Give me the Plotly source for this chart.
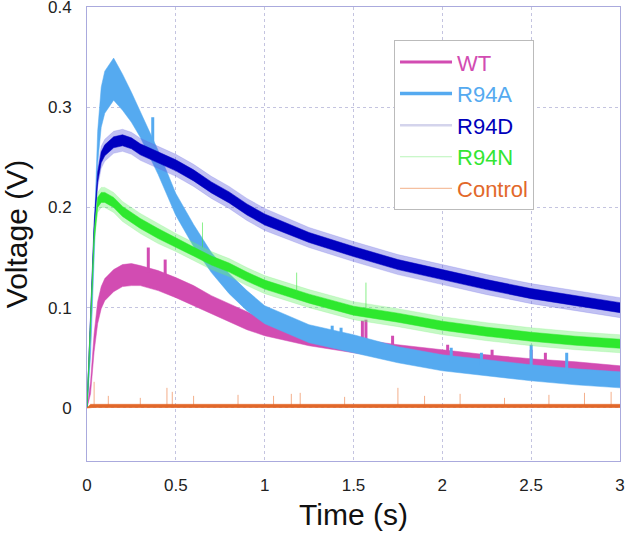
import plotly.graph_objects as go

# ---------------- data ----------------
time_s = [0, 0.02, 0.04, 0.06, 0.08, 0.1, 0.15, 0.2, 0.25, 0.3, 0.4, 0.5, 0.6,
          0.7, 0.8, 0.9, 1.0, 1.25, 1.5, 1.75, 2.0, 2.25, 2.5, 2.75, 3.0]

wt_mid = [0, 0.02, 0.065, 0.095, 0.11, 0.118, 0.127, 0.132, 0.133, 0.132, 0.127,
          0.12, 0.112, 0.103, 0.095, 0.087, 0.08, 0.07, 0.062, 0.056, 0.051,
          0.047, 0.043, 0.04, 0.036]
wt_noise = [0, 0.006, 0.009, 0.011, 0.011, 0.011, 0.011, 0.011, 0.011, 0.01, 0.01,
            0.01, 0.01, 0.009, 0.009, 0.009, 0.008, 0.008, 0.007, 0.007, 0.007,
            0.006, 0.006, 0.006, 0.006]

r94a_mid = [0, 0.06, 0.16, 0.26, 0.3, 0.315, 0.328, 0.315, 0.3, 0.283, 0.245,
            0.203, 0.172, 0.145, 0.124, 0.107, 0.093, 0.074, 0.064, 0.053, 0.045,
            0.04, 0.035, 0.031, 0.028]
r94a_noise = [0, 0.008, 0.012, 0.016, 0.02, 0.021, 0.021, 0.018, 0.015, 0.013, 0.012,
              0.011, 0.011, 0.01, 0.01, 0.01, 0.009, 0.009, 0.009, 0.008, 0.008,
              0.008, 0.008, 0.008, 0.008]

r94d_mid = [0, 0.09, 0.18, 0.23, 0.25, 0.257, 0.265, 0.267, 0.264, 0.258, 0.25,
            0.242, 0.232, 0.22, 0.21, 0.198, 0.188, 0.17, 0.156, 0.143, 0.133,
            0.123, 0.114, 0.107, 0.1]
r94d_noise = [0, 0.004, 0.007, 0.01, 0.011, 0.011, 0.011, 0.011, 0.011, 0.011, 0.011,
              0.011, 0.011, 0.011, 0.011, 0.011, 0.011, 0.01, 0.01, 0.01, 0.01,
              0.01, 0.01, 0.01, 0.01]

r94n_mid = [0, 0.08, 0.17, 0.205, 0.21, 0.21, 0.205, 0.196, 0.19, 0.184, 0.174,
            0.165, 0.156, 0.147, 0.14, 0.131, 0.123, 0.109, 0.097, 0.09, 0.082,
            0.076, 0.071, 0.067, 0.064]
r94n_noise = [0, 0.004, 0.007, 0.01, 0.01, 0.01, 0.01, 0.01, 0.01, 0.01, 0.01,
              0.009, 0.009, 0.009, 0.009, 0.009, 0.009, 0.009, 0.009, 0.009, 0.009,
              0.009, 0.009, 0.009, 0.009]

ctrl_mid = [0, 0.002, 0.002, 0.002, 0.002, 0.002, 0.002, 0.002, 0.002, 0.002, 0.002,
            0.002, 0.002, 0.002, 0.002, 0.002, 0.002, 0.002, 0.002, 0.002, 0.002,
            0.002, 0.002, 0.002, 0.002]
ctrl_noise = [0, 0.0015, 0.0015, 0.0015, 0.0015, 0.0015, 0.0015, 0.0015, 0.0015,
              0.0015, 0.0015, 0.0015, 0.0015, 0.0015, 0.0015, 0.0015, 0.0015, 0.0015,
              0.0015, 0.0015, 0.0015, 0.0015, 0.0015, 0.0015, 0.0015]

# isolated spikes: time, low, high
wt_spike_t = [0.345, 0.44, 1.55, 1.57, 1.72, 2.03, 2.28, 2.5, 2.58]
wt_spike_lo = [0.135, 0.128, 0.065, 0.065, 0.06, 0.052, 0.049, 0.045, 0.045]
wt_spike_hi = [0.16, 0.148, 0.087, 0.088, 0.072, 0.063, 0.058, 0.058, 0.055]

r94a_spike_t = [0.37, 1.38, 1.43, 2.05, 2.22, 2.5, 2.7]
r94a_spike_lo = [0.265, 0.072, 0.07, 0.045, 0.042, 0.038, 0.035]
r94a_spike_hi = [0.29, 0.082, 0.08, 0.06, 0.055, 0.063, 0.055]

r94n_spike_t = [0.65, 1.18, 1.57]
r94n_spike_lo = [0.16, 0.115, 0.1]
r94n_spike_hi = [0.185, 0.135, 0.125]

ctrl_spike_t = [0.04, 0.12, 0.3, 0.45, 0.48, 0.6, 0.85, 1.05, 1.15, 1.2, 1.45,
                1.75, 1.9, 2.1, 2.35, 2.6, 2.8, 2.95]
ctrl_spike_lo = [0.002] * 18
ctrl_spike_hi = [0.026, 0.012, 0.01, 0.02, 0.016, 0.012, 0.013, 0.012, 0.014, 0.015,
                 0.011, 0.02, 0.012, 0.014, 0.01, 0.013, 0.015, 0.016]

x_ticks = [0, 0.5, 1, 1.5, 2, 2.5, 3]
x_tick_text = ["0", "0.5", "1", "1.5", "2", "2.5", "3"]
y_ticks = [0, 0.1, 0.2, 0.3, 0.4]
y_tick_text = ["0", "0.1", "0.2", "0.3", "0.4"]

names = ["WT", "R94A", "R94D", "R94N", "Control"]
colors = {"WT": "#d24cb2", "R94A": "#55aaf0", "R94D": "#0000bb",
          "R94N": "#33e633", "Control": "#e2682a"}
legend_line = {"WT": ("#d24cb2", 3), "R94A": ("#55aaf0", 3.5),
               "R94D": ("#d4d4ec", 2.5), "R94N": ("#b8f5b8", 1.2),
               "Control": ("#f5c0a0", 1.2)}

fig = go.Figure()


def band(mid, noise, fill, line_color, lw=0.5):
    lo = [m - n for m, n in zip(mid, noise)]
    hi = [m + n for m, n in zip(mid, noise)]
    fig.add_trace(go.Scatter(x=time_s, y=lo, mode="lines",
                             line=dict(color=line_color, width=lw),
                             showlegend=False, hoverinfo="skip"))
    fig.add_trace(go.Scatter(x=time_s, y=hi, mode="lines", fill="tonexty",
                             fillcolor=fill, line=dict(color=line_color, width=lw),
                             showlegend=False, hoverinfo="skip"))


def spikes(ts, los, his, color, w):
    xs, ys = [], []
    for t, a, b in zip(ts, los, his):
        xs += [t, t, None]
        ys += [a, b, None]
    fig.add_trace(go.Scatter(x=xs, y=ys, mode="lines",
                             line=dict(color=color, width=w),
                             showlegend=False, hoverinfo="skip"))


# WT
band(wt_mid, wt_noise, colors["WT"], colors["WT"])
spikes(wt_spike_t, wt_spike_lo, wt_spike_hi, colors["WT"], 3)
# R94A
band(r94a_mid, r94a_noise, colors["R94A"], colors["R94A"])
spikes(r94a_spike_t, r94a_spike_lo, r94a_spike_hi, colors["R94A"], 3)
# R94D: light fringe + dark core
band(r94d_mid, r94d_noise, "rgba(100,100,225,0.4)", "rgba(100,100,225,0.4)")
band(r94d_mid, [n * 0.5 for n in r94d_noise], "#0000c0", "#0000c0")
# R94N
band(r94n_mid, r94n_noise, "rgba(110,240,110,0.4)", "rgba(110,240,110,0.4)")
band(r94n_mid, [n * 0.5 for n in r94n_noise], "#2ee82e", "#2ee82e")
spikes(r94n_spike_t, r94n_spike_lo, r94n_spike_hi, "rgba(60,230,60,0.6)", 1)
# Control
spikes(ctrl_spike_t, ctrl_spike_lo, ctrl_spike_hi, "rgba(235,120,60,0.6)", 1)
band(ctrl_mid, ctrl_noise, colors["Control"], colors["Control"], 0.8)

# legend entries (text coloured like the series)
for n in names:
    c, w = legend_line[n]
    fig.add_trace(go.Scatter(x=[None], y=[None], mode="lines",
                             name=f"<span style='color:{colors[n]}'>{n}</span>",
                             line=dict(color=c, width=w)))

grid_col = "#c4c4e0"
axis_col = "#aaaadd"
font_family = "Liberation Sans, Arial, sans-serif"

fig.update_layout(
    width=625, height=540,
    margin=dict(l=87, r=5, t=7, b=79, autoexpand=False),
    paper_bgcolor="white", plot_bgcolor="white",
    font=dict(family=font_family, color="#222"),
    legend=dict(x=0.576, y=0.927, xanchor="left", yanchor="top",
                traceorder="normal",
                bordercolor="#bbbbbb", borderwidth=1, bgcolor="white",
                font=dict(size=22, family=font_family),
                itemwidth=52, tracegroupgap=0),
    xaxis=dict(range=[0, 3], tickvals=x_ticks, ticktext=x_tick_text,
               showgrid=True, gridcolor=grid_col, griddash="3px,3px", gridwidth=1,
               zeroline=False, showline=True, linecolor=axis_col, linewidth=1,
               mirror=True, ticks="outside", ticklen=9, tickcolor="rgba(0,0,0,0)",
               tickfont=dict(size=17, color="#222"), automargin=False,
               ticklabeloverflow="allow",
               title=dict(text="Time (s)", font=dict(size=30, color="#111"),
                          standoff=9)),
    yaxis=dict(range=[-0.053, 0.4], tickvals=y_ticks, ticktext=y_tick_text,
               showgrid=True, gridcolor=grid_col, griddash="3px,3px", gridwidth=1,
               zeroline=False, showline=True, linecolor=axis_col, linewidth=1,
               mirror=True, ticks="outside", ticklen=11, tickcolor="rgba(0,0,0,0)",
               tickfont=dict(size=17, color="#222"), automargin=False,
               ticklabeloverflow="allow",
               title=dict(text="Voltage (V)", font=dict(size=30, color="#111"),
                          standoff=15)),
)

fig.write_html("out.html",
               config={"displayModeBar": False},
               post_script="document.body.style.margin='0';"
                           "document.body.style.overflow='hidden';")
